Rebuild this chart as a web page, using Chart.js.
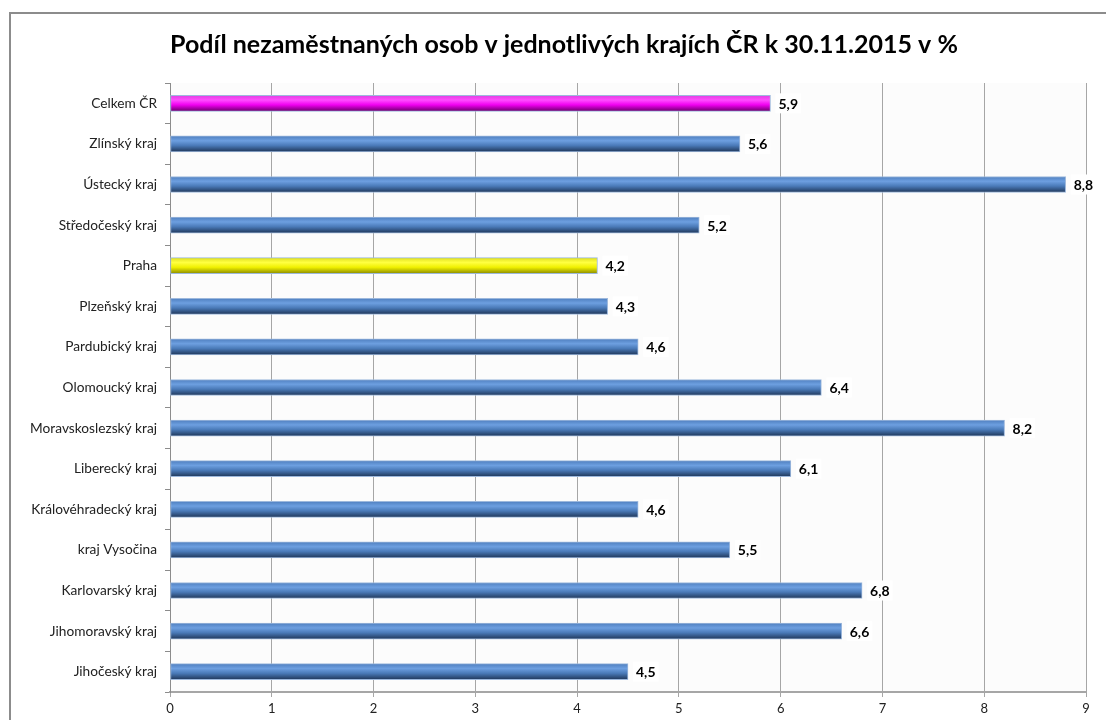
<!DOCTYPE html>
<html lang="cs">
<head>
    <meta charset="UTF-8">
    <title>Podíl nezaměstnaných osob</title>
    <script src="https://cdn.jsdelivr.net/npm/chart.js"></script>
    <style>
        body {
            margin: 0;
            background-color: white;
            overflow: hidden;
        }
        .frame {
            position: absolute;
            left: 9px;
            top: 12px;
            width: 1300px;
            height: 900px;
            border: 2px solid #8c8c8c;
        }
        .chart-box {
            position: absolute;
            left: 0;
            top: 0;
            width: 1106px;
            height: 720px;
        }
    </style>
</head>
<body>
    <div class="frame"></div>
    <div class="chart-box">
        <canvas id="unempChart"></canvas>
    </div>

    <script>
        // kraje shora dolu, jak jsou v grafu
        const regions = [
            'Celkem ČR', 'Zlínský kraj', 'Ústecký kraj', 'Středočeský kraj', 'Praha',
            'Plzeňský kraj', 'Pardubický kraj', 'Olomoucký kraj', 'Moravskoslezský kraj',
            'Liberecký kraj', 'Královéhradecký kraj', 'kraj Vysočina', 'Karlovarský kraj',
            'Jihomoravský kraj', 'Jihočeský kraj'
        ];
        const shares = [5.9, 5.6, 8.8, 5.2, 4.2, 4.3, 4.6, 6.4, 8.2, 6.1, 4.6, 5.5, 6.8, 6.6, 4.5];
        const xTicks = [0, 1, 2, 3, 4, 5, 6, 7, 8, 9];

        const FONT = 'Lato, "Open Sans", sans-serif';
        const BAR_H = 16;

        // barvy prechodu: nahore, svetle, stred, dole
        function stopsFor(label) {
            if (label === 'Celkem ČR') return ['#e040e0', '#ff4dff', '#f000f0', '#6a006a'];
            if (label === 'Praha') return ['#e0e020', '#ffff40', '#f0f000', '#8a8a00'];
            return ['#4f7fbf', '#6d9fe0', '#4a7ab8', '#1f3658'];
        }

        function barFill(context) {
            const chart = context.chart;
            const label = regions[context.dataIndex];
            const stops = stopsFor(label);
            const yScale = chart.scales.y;
            if (!chart.chartArea || !yScale) return stops[2];
            const yc = yScale.getPixelForValue(context.dataIndex);
            const g = chart.ctx.createLinearGradient(0, yc - BAR_H / 2, 0, yc + BAR_H / 2);
            g.addColorStop(0, stops[0]);
            g.addColorStop(0.3, stops[1]);
            g.addColorStop(0.6, stops[2]);
            g.addColorStop(1, stops[3]);
            return g;
        }

        const plotBackground = {
            id: 'plotBackground',
            beforeDraw(chart) {
                const { ctx, chartArea } = chart;
                ctx.save();
                ctx.fillStyle = '#fcfcfc';
                ctx.fillRect(chartArea.left, chartArea.top, chartArea.right - chartArea.left, chartArea.bottom - chartArea.top);
                ctx.restore();
            }
        };

        // popisky hodnot s bilym podkladem
        const valueLabels = {
            id: 'valueLabels',
            afterDatasetsDraw(chart) {
                const ctx = chart.ctx;
                const meta = chart.getDatasetMeta(0);
                ctx.save();
                ctx.font = 'bold 14px ' + FONT;
                ctx.textBaseline = 'middle';
                meta.data.forEach((bar, i) => {
                    const txt = shares[i].toFixed(1).replace('.', ',');
                    const w = ctx.measureText(txt).width;
                    const x = bar.x + 5;
                    ctx.fillStyle = 'white';
                    ctx.fillRect(x, bar.y - 10, w + 6, 20);
                    ctx.fillStyle = '#000';
                    ctx.fillText(txt, x + 3, bar.y + 1);
                });
                ctx.restore();
            }
        };

        new Chart(document.getElementById('unempChart'), {
            type: 'bar',
            data: {
                labels: regions,
                datasets: [{
                    data: shares,
                    backgroundColor: barFill,
                    borderColor: '#9db8dc',
                    borderWidth: 1,
                    borderSkipped: false,
                    barThickness: BAR_H
                }]
            },
            options: {
                indexAxis: 'y',
                responsive: true,
                maintainAspectRatio: false,
                animation: false,
                layout: {
                    padding: { left: 0, right: 20, top: 0, bottom: 0 }
                },
                plugins: {
                    legend: { display: false },
                    tooltip: { enabled: false },
                    title: {
                        display: true,
                        fullSize: false,
                        align: 'start',
                        text: 'Podíl nezaměstnaných osob v jednotlivých krajích ČR k 30.11.2015 v %',
                        color: '#000',
                        font: { family: FONT, size: 25, weight: 'bold', lineHeight: 1.2 },
                        padding: { top: 30, bottom: 23 }
                    }
                },
                scales: {
                    x: {
                        min: 0,
                        max: 9,
                        afterBuildTicks(scale) {
                            scale.ticks = xTicks.map(v => ({ value: v }));
                        },
                        afterFit(scale) {
                            scale.height = 28;
                        },
                        grid: {
                            color: '#a6a6a6',
                            lineWidth: 1,
                            tickLength: 5
                        },
                        border: { color: '#a6a6a6', width: 2 },
                        ticks: {
                            color: '#222',
                            padding: 4,
                            font: { family: FONT, size: 13 }
                        }
                    },
                    y: {
                        afterFit(scale) {
                            scale.width = 170;
                        },
                        grid: {
                            drawOnChartArea: false,
                            offset: true,
                            color: '#8c8c8c',
                            tickLength: 5
                        },
                        border: { color: '#8c8c8c', width: 1 },
                        ticks: {
                            color: '#222',
                            padding: 8,
                            font: { family: FONT, size: 13.7 }
                        }
                    }
                }
            },
            plugins: [plotBackground, valueLabels]
        });
    </script>
</body>
</html>
